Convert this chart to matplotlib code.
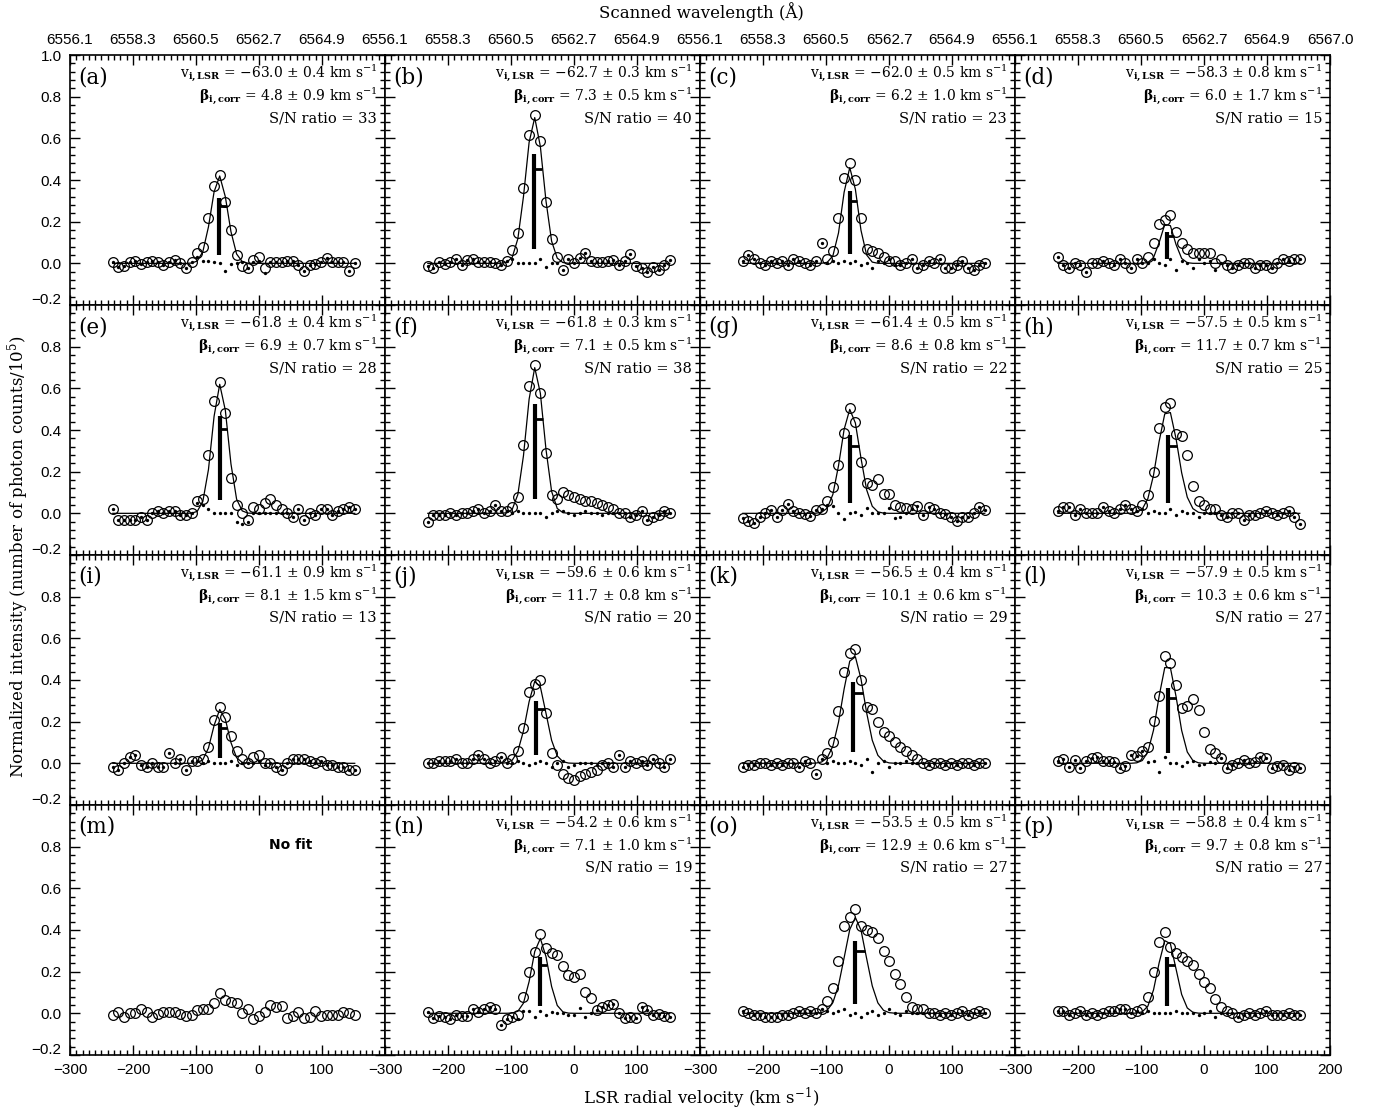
import numpy as np
import matplotlib.pyplot as plt
from matplotlib.ticker import MultipleLocator
from matplotlib.transforms import ScaledTranslation

plt.rcParams['font.family'] = 'DejaVu Serif'
plt.rcParams['mathtext.fontset'] = 'dejavuserif'

# velocity channels (km/s)
vel = np.linspace(-232, 152, 44)

labels = list('abcdefghijklmnop')
v_lsr = [-63.0, -62.7, -62.0, -58.3, -61.8, -61.8, -61.4, -57.5,
         -61.1, -59.6, -56.5, -57.9, None, -54.2, -53.5, -58.8]
v_err = [0.4, 0.3, 0.5, 0.8, 0.4, 0.3, 0.5, 0.5, 0.9, 0.6, 0.4, 0.5, None, 0.6, 0.5, 0.4]
beta = [4.8, 7.3, 6.2, 6.0, 6.9, 7.1, 8.6, 11.7, 8.1, 11.7, 10.1, 10.3, None, 7.1, 12.9, 9.7]
beta_err = [0.9, 0.5, 1.0, 1.7, 0.7, 0.5, 0.8, 0.7, 1.5, 0.8, 0.6, 0.6, None, 1.0, 0.6, 0.8]
snr = [33, 40, 23, 15, 28, 38, 22, 25, 13, 20, 29, 27, None, 19, 27, 27]

# gaussian fit of the component: peak and sigma (km/s)
fit_amp = [0.42, 0.70, 0.46, 0.20, 0.62, 0.70, 0.50, 0.50, 0.26, 0.40, 0.52, 0.48, None, 0.36, 0.46, 0.36]
fit_sig = [13, 14, 12, 11, 12.5, 13.5, 15, 16, 12, 15, 17, 15, None, 13, 17, 14]

a_obs = [0.008, -0.016, -0.013, 0.005, 0.011, -0.003, 0.008, 0.013, 0.008, -0.008, 0.005, 0.016, 0.0, -0.024, 0.008,
         0.051, 0.08, 0.216, 0.371, 0.424, 0.296, 0.16, 0.04, -0.013, -0.024, 0.016, 0.032, -0.024, 0.008, 0.008,
         0.008, 0.013, 0.011, -0.008, -0.037, -0.008, -0.005, 0.005, 0.024, 0.008, 0.008, 0.008, -0.037, 0.0]
b_obs = [-0.013, -0.024, 0.005, -0.003, 0.005, 0.019, -0.008, 0.016, 0.019, 0.005, 0.005, 0.005, 0.0, -0.008, 0.013,
         0.064, 0.147, 0.36, 0.616, 0.712, 0.589, 0.296, 0.115, 0.029, -0.032, 0.021, 0.0, 0.024, 0.048, 0.013,
         0.008, 0.008, 0.013, 0.016, -0.008, 0.013, 0.045, -0.013, -0.024, -0.04, -0.016, -0.032, -0.008, 0.016]
c_obs = [0.01, 0.04, 0.02, 0.0, -0.01, 0.01, 0.0, 0.01, -0.01, 0.02, 0.01, 0.0, -0.01, 0.01,
         0.10, 0.02, 0.06, 0.22, 0.41, 0.48, 0.40, 0.22, 0.07, 0.06, 0.05, 0.03, 0.01,
         0.01, -0.01, 0.0, 0.02, -0.02, -0.01, 0.01, 0.0, 0.02, -0.02, -0.02, -0.01, 0.01, -0.02, -0.03, -0.01, 0.0]
d_obs = [0.03, -0.01, -0.02, 0.0, -0.01, -0.04, 0.0, 0.0, 0.01, 0.0, -0.01, 0.02, 0.0, -0.02, 0.02, 0.0,
         0.03, 0.10, 0.19, 0.21, 0.23, 0.15, 0.10, 0.07, 0.05, 0.05, 0.05, 0.05, 0.0, 0.02,
         -0.01, -0.02, -0.01, 0.0, 0.0, -0.02, -0.01, -0.01, -0.02, 0.0, 0.02, 0.01, 0.02, 0.02]
e_obs = [0.02, -0.03, -0.03, -0.03, -0.03, -0.02, -0.03, 0.0, 0.01, 0.0, 0.01, 0.01, -0.01, -0.01, 0.0,
         0.06, 0.07, 0.28, 0.54, 0.63, 0.48, 0.17, 0.04, 0.0, -0.03, 0.03, 0.02, 0.05, 0.07, 0.04, 0.02,
         0.0, -0.02, 0.02, -0.03, 0.0, -0.01, 0.02, 0.02, -0.01, 0.01, 0.02, 0.03, 0.02]
f_obs = [-0.04, -0.01, -0.01, -0.01, 0.0, -0.01, 0.0, 0.0, 0.01, 0.02, 0.0, 0.01, 0.04, 0.01, 0.01,
         0.03, 0.08, 0.33, 0.61, 0.71, 0.58, 0.29, 0.09, 0.07, 0.10, 0.09, 0.08, 0.07, 0.06, 0.06,
         0.05, 0.04, 0.03, 0.02, 0.0, 0.0, -0.02, -0.01, 0.01, -0.03, -0.02, -0.01, 0.01, 0.0]
g_obs = [-0.024, -0.035, -0.045, -0.016, 0.003, 0.016, -0.019, 0.016, 0.045, 0.013, 0.003, -0.003, -0.013, 0.016,
         0.019, 0.061, 0.128, 0.232, 0.387, 0.504, 0.44, 0.245, 0.144, 0.136, 0.165, 0.093, 0.091, 0.04, 0.032,
         0.024, 0.019, 0.035, -0.008, 0.029, 0.019, 0.0, -0.005, -0.016, -0.035, -0.019, -0.019, 0.0, 0.029, 0.016]
h_obs = [0.01, 0.03, 0.03, -0.01, 0.02, 0.0, 0.0, 0.0, 0.03, 0.01, 0.0, 0.02, 0.04, 0.02, 0.01,
         0.04, 0.09, 0.20, 0.41, 0.51, 0.53, 0.38, 0.37, 0.28, 0.13, 0.06, 0.04, 0.02, 0.02, -0.01,
         -0.02, 0.0, 0.0, -0.03, -0.01, -0.01, 0.0, 0.01, 0.0, -0.01, 0.0, 0.01, -0.02, -0.05]
i_obs = [-0.02, -0.03, 0.0, 0.03, 0.04, -0.01, -0.02, 0.0, -0.02, -0.02, 0.05, 0.0, 0.02, -0.03, 0.01, 0.01,
         0.02, 0.08, 0.21, 0.27, 0.22, 0.13, 0.06, 0.02, 0.0, 0.03, 0.04, 0.0, 0.0, -0.02,
         -0.03, 0.0, 0.02, 0.02, 0.02, 0.01, 0.0, 0.01, -0.01, -0.01, -0.02, -0.02, -0.03, -0.03]
j_obs = [0.0, 0.0, 0.01, 0.01, 0.01, 0.02, 0.0, 0.0, 0.02, 0.04, 0.02, 0.0, 0.01, 0.03, 0.0,
         0.02, 0.06, 0.17, 0.34, 0.38, 0.40, 0.24, 0.05, -0.01, -0.05, -0.07, -0.08, -0.06, -0.05, -0.04,
         -0.03, -0.01, 0.0, -0.02, 0.04, -0.02, 0.01, 0.0, 0.01, -0.01, 0.02, 0.0, -0.02, 0.02]
k_obs = [-0.02, -0.01, -0.01, 0.0, 0.0, -0.01, 0.0, -0.01, 0.0, 0.0, -0.02, 0.01,
         0.0, -0.05, 0.02, 0.05, 0.10, 0.25, 0.44, 0.53, 0.55, 0.40, 0.27, 0.26, 0.20, 0.15, 0.13, 0.10,
         0.08, 0.06, 0.04, 0.02, 0.0, -0.01, 0.0, 0.0, -0.01, 0.0, -0.01, 0.0, 0.0, -0.01, 0.0, 0.0]
l_obs = [0.013, 0.019, -0.016, 0.016, -0.024, 0.013, 0.024, 0.029, 0.013, 0.013, 0.008, -0.024, -0.013, 0.04,
         0.035, 0.059, 0.08, 0.205, 0.323, 0.515, 0.48, 0.376, 0.267, 0.275, 0.309, 0.256, 0.152, 0.067, 0.048,
         0.026, -0.024, -0.008, 0.0, 0.016, 0.0, 0.008, 0.032, 0.024, -0.024, -0.013, -0.008, -0.032, -0.019, -0.024]
m_obs = [-0.008, 0.008, -0.016, 0.003, 0.0, 0.019, 0.005, -0.016, -0.003, 0.005, 0.005, 0.008, -0.003, -0.013,
         -0.008, 0.016, 0.019, 0.019, 0.048, 0.099, 0.064, 0.056, 0.051, 0.0, 0.021, -0.029, -0.013, 0.008, 0.04,
         0.032, 0.035, -0.024, -0.013, 0.008, -0.024, -0.016, 0.013, -0.013, -0.008, -0.008, -0.008, 0.008, 0.0, -0.008]
n_obs = [0.008, -0.024, -0.013, -0.016, -0.027, -0.008, -0.013, -0.013, 0.019, 0.008, 0.019, 0.029, 0.019, -0.056,
         -0.029, -0.019, -0.008, 0.08, 0.197, 0.296, 0.381, 0.312, 0.291, 0.28, 0.227, 0.184, 0.176, 0.189, 0.101,
         0.075, 0.016, 0.029, 0.04, 0.045, 0.003, -0.024, -0.016, -0.024, 0.029, 0.016, -0.008, -0.003, -0.013, -0.016]
o_obs = [0.01, 0.0, -0.01, -0.01, -0.02, -0.02, -0.02, -0.01, -0.01, 0.0, 0.01, 0.0, 0.01,
         0.0, 0.02, 0.06, 0.12, 0.25, 0.42, 0.46, 0.50, 0.42, 0.40, 0.39, 0.36, 0.30, 0.25, 0.19, 0.14, 0.08,
         0.03, 0.02, 0.02, 0.0, 0.0, -0.01, 0.0, -0.01, 0.0, 0.01, -0.01, 0.0, 0.01, 0.0]
p_obs = [0.01, 0.01, -0.01, 0.0, 0.01, -0.01, 0.0, -0.01, 0.0, 0.01, 0.01, 0.02, 0.02, 0.0, 0.01,
         0.02, 0.08, 0.20, 0.34, 0.39, 0.32, 0.29, 0.27, 0.25, 0.23, 0.19, 0.15, 0.12, 0.07, 0.03, 0.01,
         0.0, -0.02, -0.01, 0.0, -0.01, 0.0, 0.01, -0.01, -0.01, -0.01, 0.0, -0.01, -0.01]

# residuals of the full fit; outside the listed window they equal the data
res_from = [15, 15, 15, 16, 15, 15, 15, 15, 16, 15, 15, 16, None, 16, 15, 15]
a_res = [0.03, 0.01, 0.01, 0.005, 0.003, -0.035, -0.005, 0.0, 0.005, -0.024, 0.008, 0.013, -0.048]
b_res = [0.02, 0.0, 0.0, 0.0, 0.0, 0.019, -0.016, 0.0, 0.003]
c_res = [0.0, 0.01, 0.0, 0.01, 0.0, 0.01, -0.01, 0.0, -0.02, 0.01, 0.0, 0.02, -0.01]
d_res = [0.0, 0.02, 0.0, -0.01, 0.02, -0.03, 0.01, 0.0, -0.02, 0.02, 0.0, 0.01, -0.03, 0.0]
e_res = [0.05, 0.04, 0.02, 0.0, 0.0, 0.0, 0.0, -0.04, -0.05, -0.04, 0.0, 0.0, 0.0, 0.0, 0.0, 0.0]
f_res = [0.0, 0.01, 0.0, 0.0, 0.0, 0.0, -0.02, 0.0, 0.01, 0.01, 0.0, -0.01, 0.0, 0.01, 0.0, 0.0, -0.01, 0.0, 0.0, 0.0]
g_res = [0.04, 0.035, 0.0, -0.027, 0.0, 0.008, -0.008, 0.024, 0.0, 0.0, 0.0, 0.024, -0.024, -0.016, 0.0]
h_res = [0.02, 0.0, 0.01, 0.0, 0.0, 0.02, -0.01, 0.01, 0.0, 0.0, -0.02, 0.0, 0.0, 0.0]
i_res = [0.0, 0.01, 0.0, 0.0, 0.0, 0.01, -0.01, 0.0, 0.0, 0.0, 0.01, -0.01, 0.0]
j_res = [0.0, 0.01, 0.0, -0.01, 0.0, 0.01, 0.0, -0.02, 0.0, 0.01, -0.02, -0.01, 0.0, 0.0, 0.0, -0.01, 0.0, 0.0]
k_res = [0.0, 0.01, 0.0, 0.0, 0.01, 0.0, -0.01, 0.02, -0.04, 0.0, 0.01, -0.02, 0.0, 0.0, 0.01, 0.0, 0.0]
l_res = [0.008, 0.013, -0.04, 0.029, 0.0, 0.0, -0.013, 0.005, 0.013, -0.008, -0.005, 0.005, 0.0, 0.026]
n_res = [-0.029, 0.013, 0.013, -0.019, 0.013, -0.008, 0.005, 0.0, 0.0, -0.008, -0.008, 0.024, -0.019, 0.0]
o_res = [0.01, 0.0, 0.01, 0.02, -0.01, 0.0, -0.02, 0.0, 0.01, -0.01, 0.0, 0.02, 0.0, -0.01, 0.01, 0.0, 0.0, 0.0]
p_res = [0.0, 0.01, 0.0, 0.0, 0.0, 0.0, 0.01, 0.0, 0.0, 0.0, -0.01, 0.0, 0.01, -0.02, 0.0, 0.0]

obs_all = [a_obs, b_obs, c_obs, d_obs, e_obs, f_obs, g_obs, h_obs,
           i_obs, j_obs, k_obs, l_obs, m_obs, n_obs, o_obs, p_obs]
res_all = [a_res, b_res, c_res, d_res, e_res, f_res, g_res, h_res,
           i_res, j_res, k_res, l_res, None, n_res, o_res, p_res]

vel_ticks = [-300, -200, -100, 0, 100, 200]
vel_labels = ['\u2212300', '\u2212200', '\u2212100', '0', '100', '200']
wave_labels = ['6556.1', '6558.3', '6560.5', '6562.7', '6564.9', '6567.0']
y_ticks = [-0.2, 0.0, 0.2, 0.4, 0.6, 0.8, 1.0]
y_labels = ['\u22120.2', '0.0', '0.2', '0.4', '0.6', '0.8', '1.0']

tick_font = 'Liberation Sans'

fig, axes = plt.subplots(4, 4, figsize=(13.8, 11.14), dpi=100)
fig.subplots_adjust(left=0.0507, right=0.9638, top=0.9506, bottom=0.053, hspace=0, wspace=0)

for k, ax in enumerate(axes.flat):
    row, col = divmod(k, 4)
    obs = np.array(obs_all[k])

    if fit_amp[k] is not None:
        fit = fit_amp[k] * np.exp(-0.5 * ((vel - v_lsr[k]) / fit_sig[k]) ** 2)
        ax.plot(vel, fit, color='k', lw=0.9)
        res = obs.copy()
        w = res_all[k]
        res[res_from[k]:res_from[k] + len(w)] = w
        ax.plot(vel, res, 'o', color='k', ms=2.4, mew=0)
        # component marker
        A = fit_amp[k]
        ax.plot([v_lsr[k], v_lsr[k]], [0.1 * A, 0.75 * A], color='k', lw=3, solid_capstyle='butt')
        ax.plot([v_lsr[k], v_lsr[k] + 0.9 * fit_sig[k]], [0.65 * A, 0.65 * A], color='k', lw=2,
                solid_capstyle='butt')
        ax.text(0.975, 0.928,
                r'v$_{\mathbf{i,LSR}}$ = $-$%.1f $\pm$ %.1f km s$^{-1}$' % (-v_lsr[k], v_err[k]),
                transform=ax.transAxes, ha='right', va='center', fontsize=10)
        ax.text(0.975, 0.836,
                r'$\mathbf{\beta}_{\mathbf{i,corr}}$ = %.1f $\pm$ %.1f km s$^{-1}$' % (beta[k], beta_err[k]),
                transform=ax.transAxes, ha='right', va='center', fontsize=10)
        ax.text(0.975, 0.748, 'S/N ratio = %d' % snr[k],
                transform=ax.transAxes, ha='right', va='center', fontsize=10.5)
    else:
        ax.text(0.70, 0.84, 'No fit', transform=ax.transAxes, ha='center', va='center',
                fontsize=10, fontweight='bold', family='DejaVu Sans')

    ax.plot(vel, obs, 'o', mfc='none', mec='k', ms=7, mew=0.9)
    ax.text(0.025, 0.912, '(%s)' % labels[k], transform=ax.transAxes, ha='left', va='center', fontsize=15.5)

    # ticks on all sides, pointing inwards
    ax.xaxis.set_minor_locator(MultipleLocator(10))
    ax.yaxis.set_minor_locator(MultipleLocator(0.04))
    ax.tick_params(which='both', direction='in', top=True, right=True, labelsize=11, width=1, pad=6)
    ax.tick_params(which='major', length=7)
    ax.tick_params(which='minor', length=3.5)
    for s in ax.spines.values():
        s.set_linewidth(1.2)

    nlab = 6 if col == 3 else 5
    ax.set_xticks(vel_ticks)
    if row == 3:
        ax.set_xticklabels(vel_labels[:nlab] + [''] * (6 - nlab), family=tick_font)
    elif row == 0:
        ax.tick_params(labeltop=True, labelbottom=False)
        ax.set_xticklabels(wave_labels[:nlab] + [''] * (6 - nlab), family=tick_font)
    else:
        ax.set_xticklabels([])

    ax.set_yticks(y_ticks)
    if col == 0:
        ylab = y_labels[:-1] + (['1.0'] if row == 0 else [''])
        ax.set_yticklabels(ylab, family=tick_font)
        # the -0.2 label sits a little above its tick
        lbl = ax.get_yticklabels()[0]
        lbl.set_transform(lbl.get_transform() + ScaledTranslation(0, 5 / 72, fig.dpi_scale_trans))
    else:
        ax.set_yticklabels([])

    ax.set_xlim(-300, 200)
    ax.set_ylim(-0.2, 1.0)

fig.text(0.508, 0.014, r'LSR radial velocity (km s$^{-1}$)', ha='center', va='center', fontsize=12)
fig.text(0.013, 0.50, r'Normalized intensity (number of photon counts/10$^5$)', ha='center', va='center',
         rotation=90, fontsize=12)
fig.text(0.508, 0.989, 'Scanned wavelength (\u00c5)', ha='center', va='center', fontsize=12)

plt.savefig('out.png', dpi=100)
plt.close()
